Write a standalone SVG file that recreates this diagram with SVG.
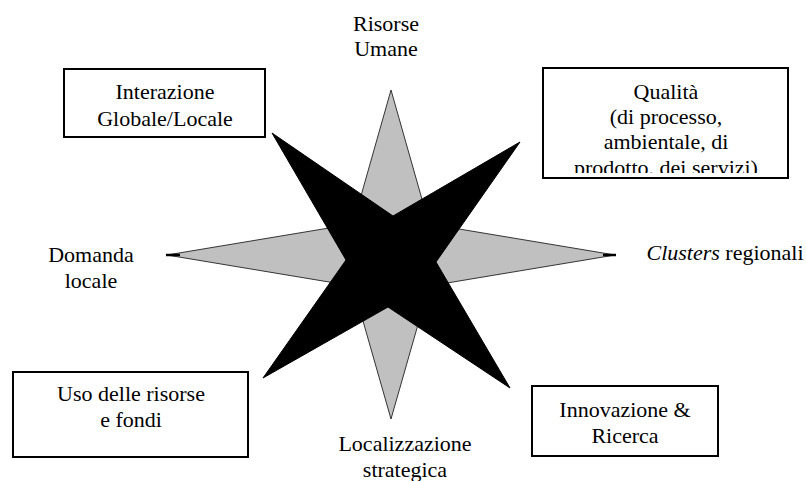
<svg xmlns="http://www.w3.org/2000/svg" width="806" height="481" viewBox="0 0 806 481">
<style>
  .box { fill: #ffffff; stroke: #000000; stroke-width: 2; }
  .gray { fill: #c0c0c0; stroke: #333333; stroke-width: 1; stroke-linejoin: bevel; }
  .black { fill: #000000; stroke: #000000; stroke-width: 1; }
  .stub { stroke: #000000; stroke-width: 2.5; }
</style>
<defs>
  <clipPath id="qclip"><rect x="544" y="69" width="243" height="104"/></clipPath>
</defs>
<rect width="806" height="481" fill="#ffffff"/>

<g id="star">
  <polygon class="gray" points="391,90 429,224 615,255 429,286 391,419 353,286 167,255 353,224"/>
  <line class="stub" x1="166" y1="255" x2="180" y2="255"/>
  <line class="stub" x1="603" y1="255" x2="616" y2="255"/>
  <polygon class="black" points="272,133 393,216 520,142 436,262 510,388 388,307 263,378 346,260"/>
</g>

<g id="connectors"></g>

<g id="risorse-umane">
  <text x="386" y="31" font-size="22" font-family="Liberation Serif" text-anchor="middle" style="font-family:'Liberation Serif'">Risorse</text>
  <text x="386" y="56" font-size="22" font-family="Liberation Serif" text-anchor="middle" style="font-family:'Liberation Serif'">Umane</text>
</g>

<g id="interazione">
  <rect class="box" x="64" y="69" width="201" height="68"/>
  <text x="165" y="99" font-size="22" font-family="Liberation Serif" text-anchor="middle" style="font-family:'Liberation Serif'">Interazione</text>
  <text x="165" y="126" font-size="22" font-family="Liberation Serif" text-anchor="middle" style="font-family:'Liberation Serif'">Globale/Locale</text>
</g>

<g id="qualita">
  <rect class="box" x="543" y="68" width="245" height="110"/>
  <g clip-path="url(#qclip)">
    <text x="666" y="99" font-size="22" font-family="Liberation Serif" text-anchor="middle" style="font-family:'Liberation Serif'">Qualità</text>
    <text x="666" y="124" font-size="22" font-family="Liberation Serif" text-anchor="middle" style="font-family:'Liberation Serif'">(di processo,</text>
    <text x="666" y="149" font-size="22" font-family="Liberation Serif" text-anchor="middle" style="font-family:'Liberation Serif'">ambientale, di</text>
    <text x="666" y="175" font-size="22" font-family="Liberation Serif" text-anchor="middle" style="font-family:'Liberation Serif'">prodotto. dei servizi)</text>
  </g>
</g>

<g id="domanda-locale">
  <text x="91" y="262" font-size="22" font-family="Liberation Serif" text-anchor="middle" style="font-family:'Liberation Serif'">Domanda</text>
  <text x="91" y="288" font-size="22" font-family="Liberation Serif" text-anchor="middle" style="font-family:'Liberation Serif'">locale</text>
</g>

<g id="clusters-regionali">
  <text x="725" y="260" font-size="22" font-family="Liberation Serif" text-anchor="middle" style="font-family:'Liberation Serif'"><tspan font-style="italic">Clusters</tspan> regionali</text>
</g>

<g id="uso-risorse">
  <rect class="box" x="13" y="372" width="235" height="85"/>
  <text x="131" y="401" font-size="22" font-family="Liberation Serif" text-anchor="middle" style="font-family:'Liberation Serif'">Uso delle risorse</text>
  <text x="131" y="427" font-size="22" font-family="Liberation Serif" text-anchor="middle" style="font-family:'Liberation Serif'">e fondi</text>
</g>

<g id="localizzazione">
  <text x="405" y="451" font-size="22" font-family="Liberation Serif" text-anchor="middle" style="font-family:'Liberation Serif'">Localizzazione</text>
  <text x="405" y="477" font-size="22" font-family="Liberation Serif" text-anchor="middle" style="font-family:'Liberation Serif'">strategica</text>
</g>

<g id="innovazione">
  <rect class="box" x="532" y="386" width="186" height="70"/>
  <text x="625" y="417" font-size="22" font-family="Liberation Serif" text-anchor="middle" style="font-family:'Liberation Serif'">Innovazione &amp;</text>
  <text x="625" y="443" font-size="22" font-family="Liberation Serif" text-anchor="middle" style="font-family:'Liberation Serif'">Ricerca</text>
</g>
</svg>
